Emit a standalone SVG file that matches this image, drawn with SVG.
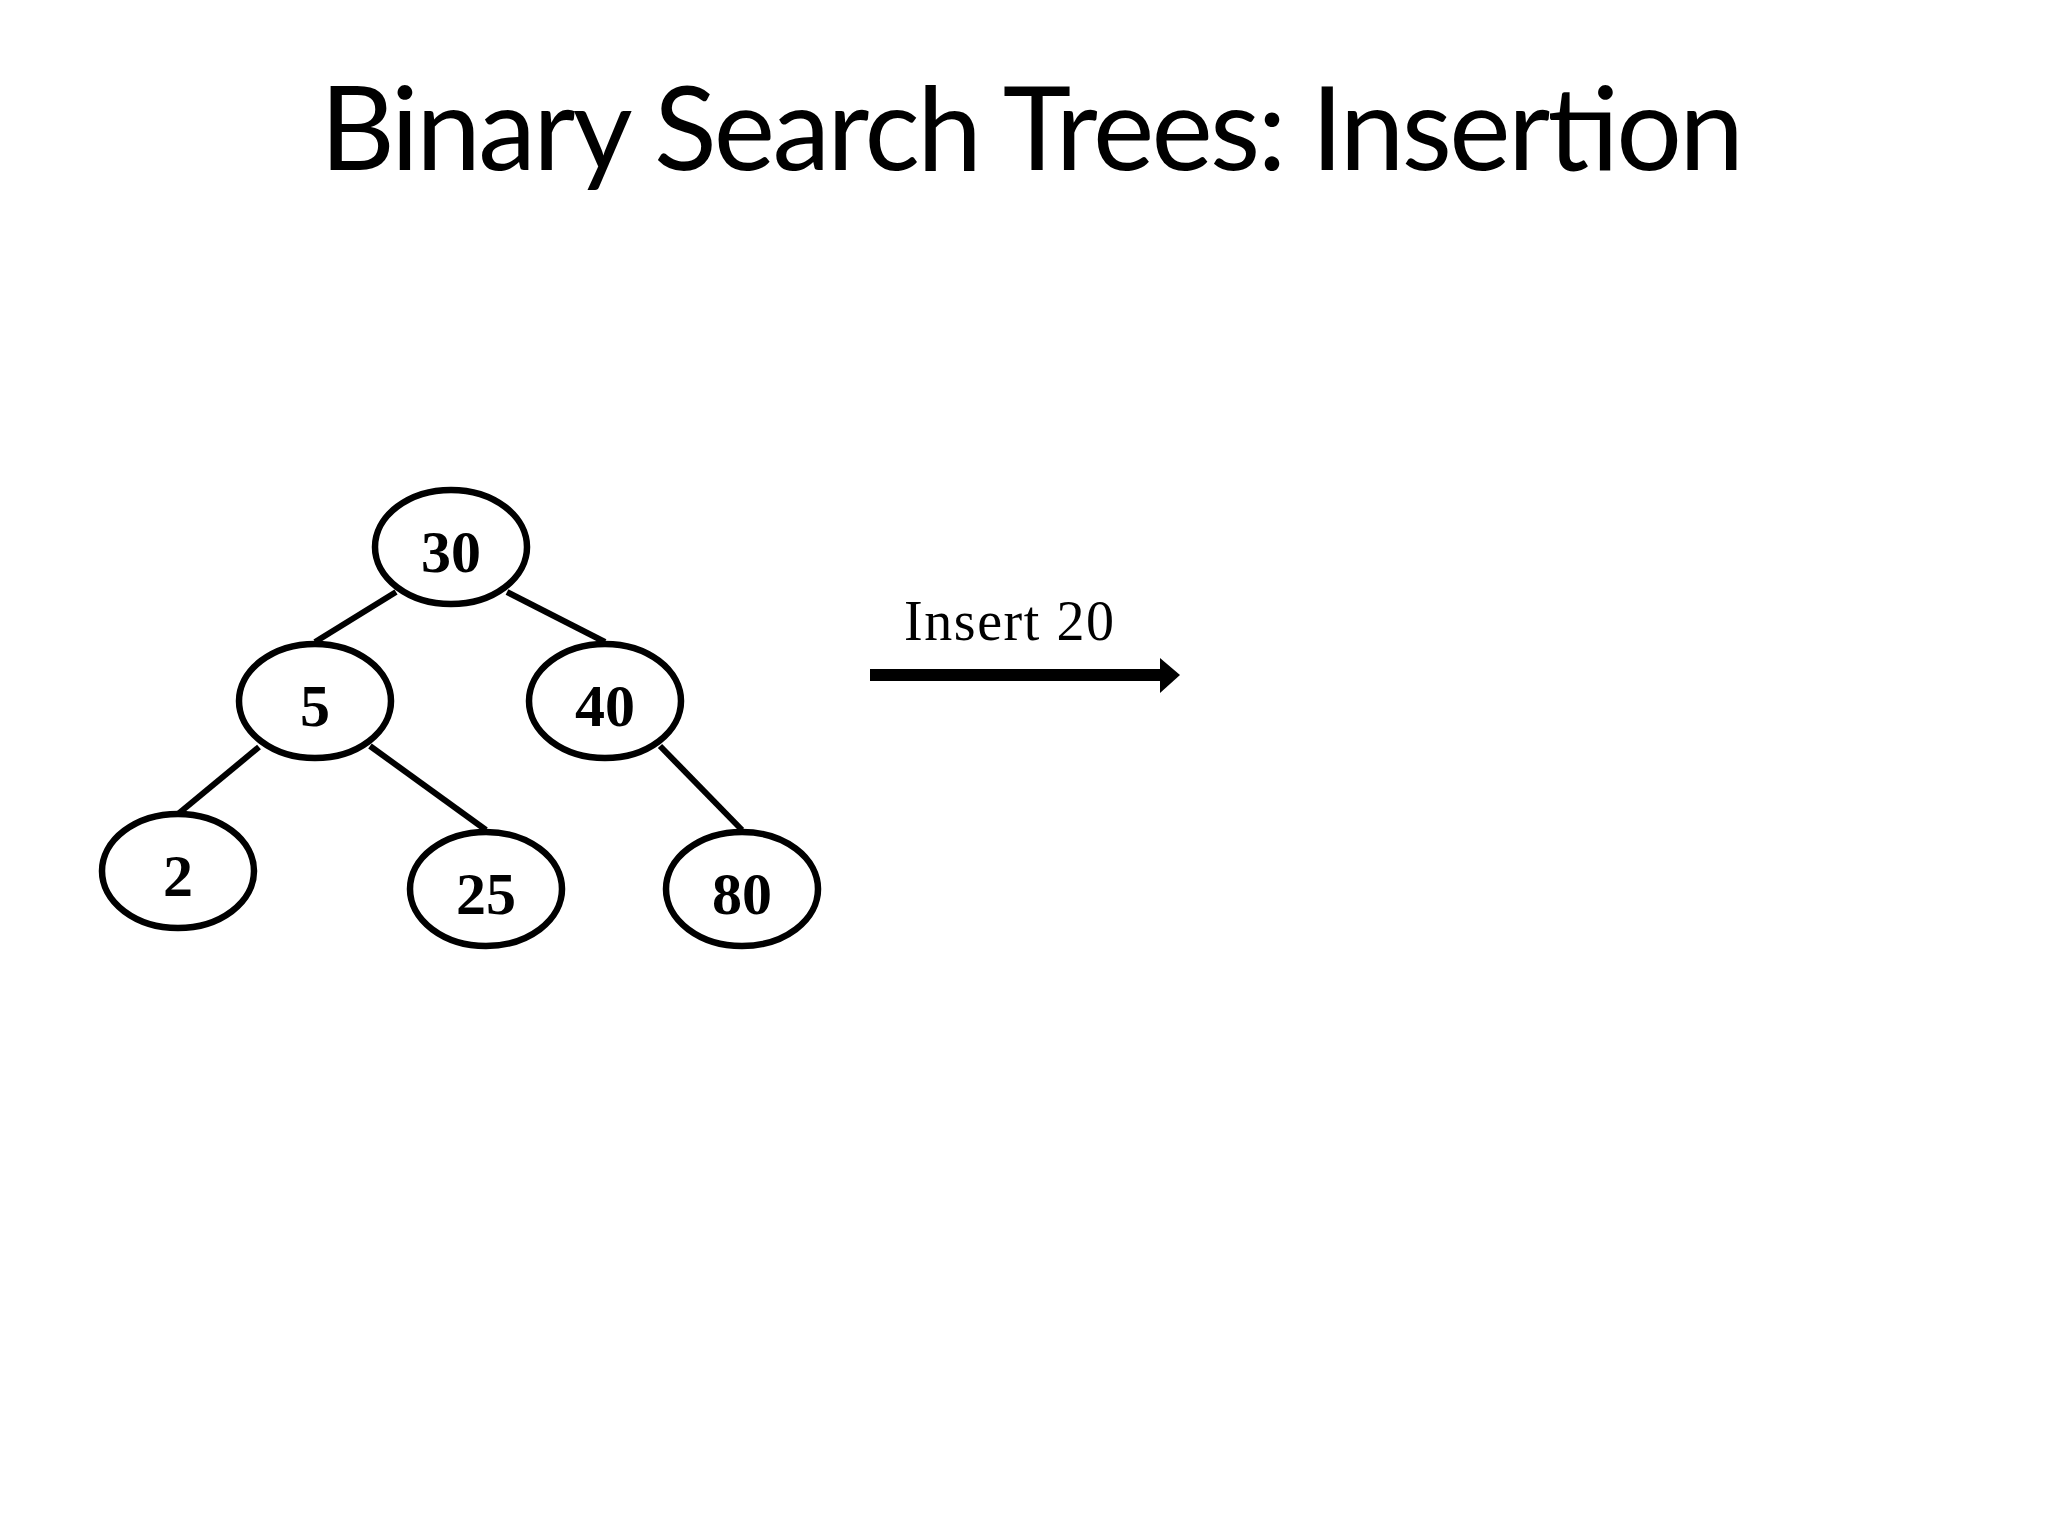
<svg xmlns="http://www.w3.org/2000/svg" width="2048" height="1536" viewBox="0 0 2048 1536">
<style>
.n{fill:#fff;stroke:#000;stroke-width:6.5}
.l{font-family:"Liberation Serif",serif;font-weight:bold;font-size:60px;text-anchor:middle}
.e{stroke:#000;stroke-width:6}
</style>
<rect width="2048" height="1536" fill="#fff"/>
<text x="1032" y="170" font-family="Lato,sans-serif" font-size="116" text-anchor="middle" textLength="1424">Binary Search Trees: Insertion</text>
<g id="connectors">
<line class="e" x1="396" y1="592" x2="315" y2="642"/>
<line class="e" x1="507" y1="592" x2="605" y2="642"/>
<line class="e" x1="259" y1="747" x2="178" y2="814"/>
<line class="e" x1="370" y1="746" x2="486" y2="830"/>
<line class="e" x1="660" y1="746" x2="742" y2="830"/>
</g>
<g id="n30"><ellipse class="n" cx="451" cy="547" rx="76" ry="57"/><text class="l" x="451" y="572">30</text></g>
<g id="n5"><ellipse class="n" cx="315" cy="701" rx="76" ry="57"/><text class="l" x="315" y="726">5</text></g>
<g id="n40"><ellipse class="n" cx="605" cy="701" rx="76" ry="57"/><text class="l" x="605" y="726">40</text></g>
<g id="n2"><ellipse class="n" cx="178" cy="871" rx="76" ry="57"/><text class="l" x="178" y="896">2</text></g>
<g id="n25"><ellipse class="n" cx="486" cy="889" rx="76" ry="57"/><text class="l" x="486" y="914">25</text></g>
<g id="n80"><ellipse class="n" cx="742" cy="889" rx="76" ry="57"/><text class="l" x="742" y="914">80</text></g>
<g id="arrow">
<text x="904" y="640" font-family="Liberation Serif,serif" font-size="56" textLength="210">Insert  20</text>
<rect x="870" y="669" width="292" height="12" fill="#000"/>
<polygon points="1160,658 1180,675 1160,693" fill="#000"/>
</g>
</svg>
